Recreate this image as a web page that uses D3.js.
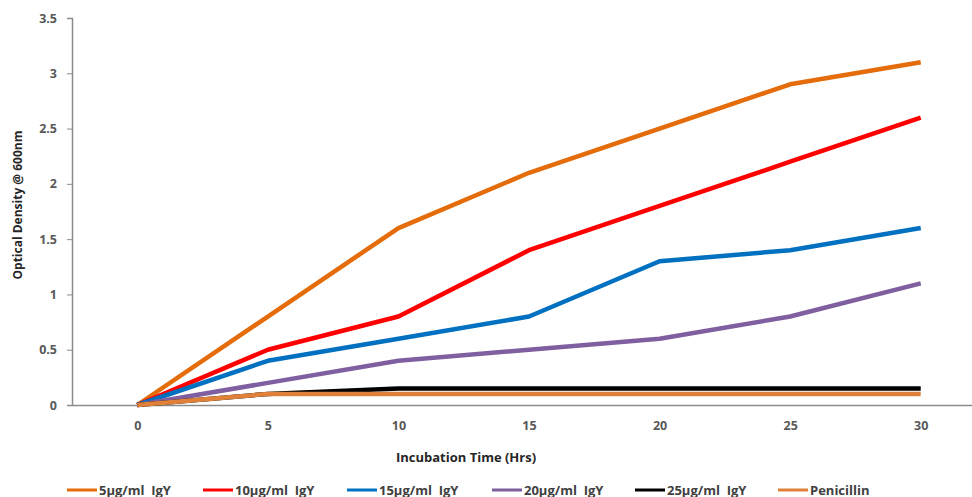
<!DOCTYPE html>
<html><head><meta charset="utf-8">
<script src="https://cdn.jsdelivr.net/npm/d3@7"></script>
<style>body{margin:0;background:#fff;} text{font-family:"Open Sans",Lato,sans-serif;white-space:pre;}</style>
</head><body><svg id="c" width="972" height="497"></svg>
<script>
const hours = [0, 5, 10, 15, 20, 25, 30];
const yTicks = [0, 0.5, 1, 1.5, 2, 2.5, 3, 3.5];
const seriesNames = ["5µg/ml  IgY", "10µg/ml  IgY", "15µg/ml  IgY", "20µg/ml  IgY", "25µg/ml  IgY", "Penicillin"];
const s5 = [0, 0.8, 1.6, 2.1, 2.5, 2.9, 3.1];
const s10 = [0, 0.5, 0.8, 1.4, 1.8, 2.2, 2.6];
const s15 = [0, 0.4, 0.6, 0.8, 1.3, 1.4, 1.6];
const s20 = [0, 0.2, 0.4, 0.5, 0.6, 0.8, 1.1];
const s25 = [0, 0.1, 0.15, 0.15, 0.15, 0.15, 0.15];
const pen = [0, 0.1, 0.1, 0.1, 0.1, 0.1, 0.1];
const colors = ["#E46C0A", "#FF0000", "#0070C0", "#7F5F9F", "#000000", "#E0813A"];
const allSeries = [s5, s10, s15, s20, s25, pen];

const svg = d3.select("#c");
const mLeft = 72, mRight = 986, mTop = 18, mBottom = 405;
const x = d3.scalePoint().domain(hours).range([mLeft, mRight]).padding(0.5);
const y = d3.scaleLinear().domain([0, 3.5]).range([mBottom, mTop]);

// axes
const yAxis = svg.append("g").attr("transform", `translate(${mLeft},0)`)
  .call(d3.axisLeft(y).tickValues(yTicks).tickSize(5).tickPadding(10).tickFormat(d3.format("")));
yAxis.select(".domain").attr("stroke", "#8c8c8c").attr("stroke-width", 1.5);
yAxis.selectAll(".tick line").attr("stroke", "#8c8c8c");
yAxis.selectAll("text").attr("fill", "#595959").style("font-size", "12.5px").style("font-weight", "bold");

const xAxis = svg.append("g").attr("transform", `translate(0,${mBottom})`)
  .call(d3.axisBottom(x).tickSize(0).tickPadding(16));
xAxis.select(".domain").attr("stroke", "#8c8c8c").attr("stroke-width", 1.5);
xAxis.selectAll("text").attr("fill", "#595959").style("font-size", "12.5px").style("font-weight", "bold");

// lines
const line = d3.line().x((d, i) => x(hours[i])).y(d => y(d));
allSeries.forEach((s, k) => {
  svg.append("path").datum(s).attr("d", line)
    .attr("fill", "none").attr("stroke", colors[k]).attr("stroke-width", 4.5)
    .attr("stroke-linejoin", "round");
});

// titles
svg.append("text").attr("x", 466).attr("y", 462).attr("text-anchor", "middle")
  .style("font-size", "13px").style("font-weight", "bold").attr("fill", "#262626")
  .text("Incubation Time (Hrs)");
svg.append("text").attr("transform", "translate(22,205) rotate(-90)").attr("text-anchor", "middle")
  .style("font-size", "12px").style("font-weight", "bold").attr("fill", "#262626")
  .text("Optical Density @ 600nm");

// legend
const legX = [67, 203, 347, 492, 635, 778];
seriesNames.forEach((n, k) => {
  const g = svg.append("g").attr("transform", `translate(${legX[k]},490)`);
  g.append("line").attr("x1", 0).attr("x2", 30).attr("y1", 0).attr("y2", 0)
    .attr("stroke", colors[k]).attr("stroke-width", 3);
  g.append("text").attr("x", 32).attr("y", 4.5).style("font-size", "13px").style("font-weight", "bold")
    .attr("fill", "#404040").text(n);
});
</script></body></html>
